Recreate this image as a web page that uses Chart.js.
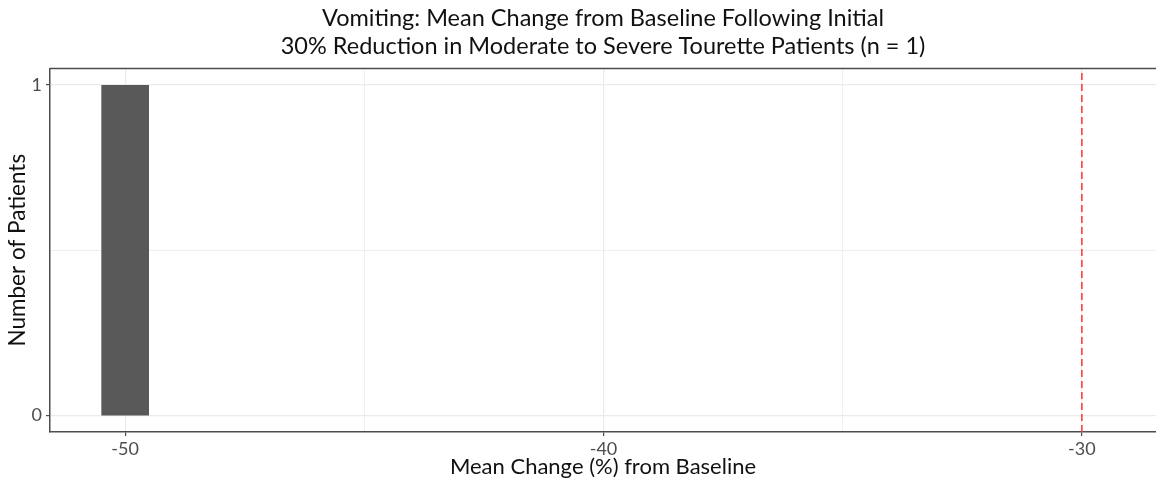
<!DOCTYPE html>
<html>
<head>
<meta charset="utf-8">
<script src="https://cdn.jsdelivr.net/npm/chart.js@4"></script>
<style>
  html, body { margin: 0; padding: 0; background: #fff; overflow: hidden; }
  #wrap { width: 1156px; height: 480px; position: relative; }
</style>
</head>
<body>
<div id="wrap"><canvas id="chart" width="1156" height="480"></canvas></div>
<script>
// histogram bin (one patient at -50%)
const binEdges = [-50.5, -49.5]
const binCounts = [1]
const thresholdX = -30

const xTicks = [-50, -45, -40, -35, -30]
const xLabels = [-50, -40, -30]
const yTicks = [0, 0.5, 1]
const yLabels = [0, 1]

const titleLines = [
  "Vomiting: Mean Change from Baseline Following Initial",
  "30% Reduction in Moderate to Severe Tourette Patients (n = 1)"
]

const FONT = "Lato, 'Open Sans', sans-serif"

// bar drawn as filled step between the bin edges
const barPoints = [
  { x: binEdges[0], y: binCounts[0] },
  { x: binEdges[1], y: binCounts[0] }
]

const topBorder = {
  id: "topBorder",
  afterDraw(chart) {
    const { ctx, chartArea } = chart
    ctx.save()
    ctx.strokeStyle = "#4d4d4d"
    ctx.lineWidth = 1.5
    ctx.beginPath()
    ctx.moveTo(chartArea.left, chartArea.top)
    ctx.lineTo(chartArea.right + 2, chartArea.top)
    ctx.stroke()
    ctx.restore()
  }
}

const ctx = document.getElementById("chart").getContext("2d")

const myChart = new Chart(ctx, {
  type: "line",
  data: {
    datasets: [
      {
        data: barPoints,
        fill: "origin",
        backgroundColor: "#595959",
        borderColor: "#595959",
        borderWidth: 0,
        pointRadius: 0,
        tension: 0,
        order: 2
      },
      {
        data: [{ x: thresholdX, y: -0.05 }, { x: thresholdX, y: 1.05 }],
        borderColor: "#ff4040",
        borderWidth: 1.6,
        borderDash: [7, 4],
        pointRadius: 0,
        fill: false,
        order: 1
      }
    ]
  },
  options: {
    responsive: false,
    animation: false,
    layout: { padding: { left: 0, right: 0, top: 0, bottom: 0 } },
    plugins: {
      legend: { display: false },
      tooltip: { enabled: false },
      title: {
        display: true,
        fullSize: false,
        text: titleLines,
        color: "#111",
        font: { family: FONT, size: 23.5, weight: "normal", lineHeight: 1.2 },
        padding: { top: 4, bottom: 8 }
      }
    },
    scales: {
      x: {
        type: "linear",
        min: -51.57,
        max: -28.45,
        afterBuildTicks(scale) { scale.ticks = xTicks.map(v => ({ value: v })) },
        afterFit(scale) { scale.height = 48 },
        ticks: {
          autoSkip: false,
          maxRotation: 0,
          padding: 2,
          color: "#4d4d4d",
          font: { family: FONT, size: 18 },
          callback: v => xLabels.includes(v) ? String(v) : ""
        },
        grid: {
          color: "#ebebeb",
          lineWidth: c => xLabels.includes(c.tick && c.tick.value) ? 1.2 : 0.8,
          tickColor: c => xLabels.includes(c.tick && c.tick.value) ? "#4d4d4d" : "rgba(0,0,0,0)",
          tickLength: 4
        },
        border: { display: true, color: "#4d4d4d", width: 1.5 },
        title: {
          display: true,
          text: "Mean Change (%) from Baseline",
          color: "#111",
          font: { family: FONT, size: 22 },
          padding: { top: 0, bottom: 0 }
        }
      },
      y: {
        type: "linear",
        min: -0.05,
        max: 1.05,
        afterBuildTicks(scale) { scale.ticks = yTicks.map(v => ({ value: v })) },
        afterFit(scale) { scale.width = 50 },
        ticks: {
          autoSkip: false,
          padding: 4,
          color: "#4d4d4d",
          font: { family: FONT, size: 18 },
          callback: v => yLabels.includes(v) ? String(v) : ""
        },
        grid: {
          color: "#ebebeb",
          lineWidth: c => yLabels.includes(c.tick && c.tick.value) ? 1.2 : 0.8,
          tickColor: c => yLabels.includes(c.tick && c.tick.value) ? "#4d4d4d" : "rgba(0,0,0,0)",
          tickLength: 4
        },
        border: { display: true, color: "#4d4d4d", width: 1.5 },
        title: {
          display: true,
          text: "Number of Patients",
          color: "#111",
          font: { family: FONT, size: 22.5 },
          padding: { top: 4, bottom: 4 }
        }
      }
    }
  },
  plugins: [topBorder]
})
</script>
</body>
</html>
